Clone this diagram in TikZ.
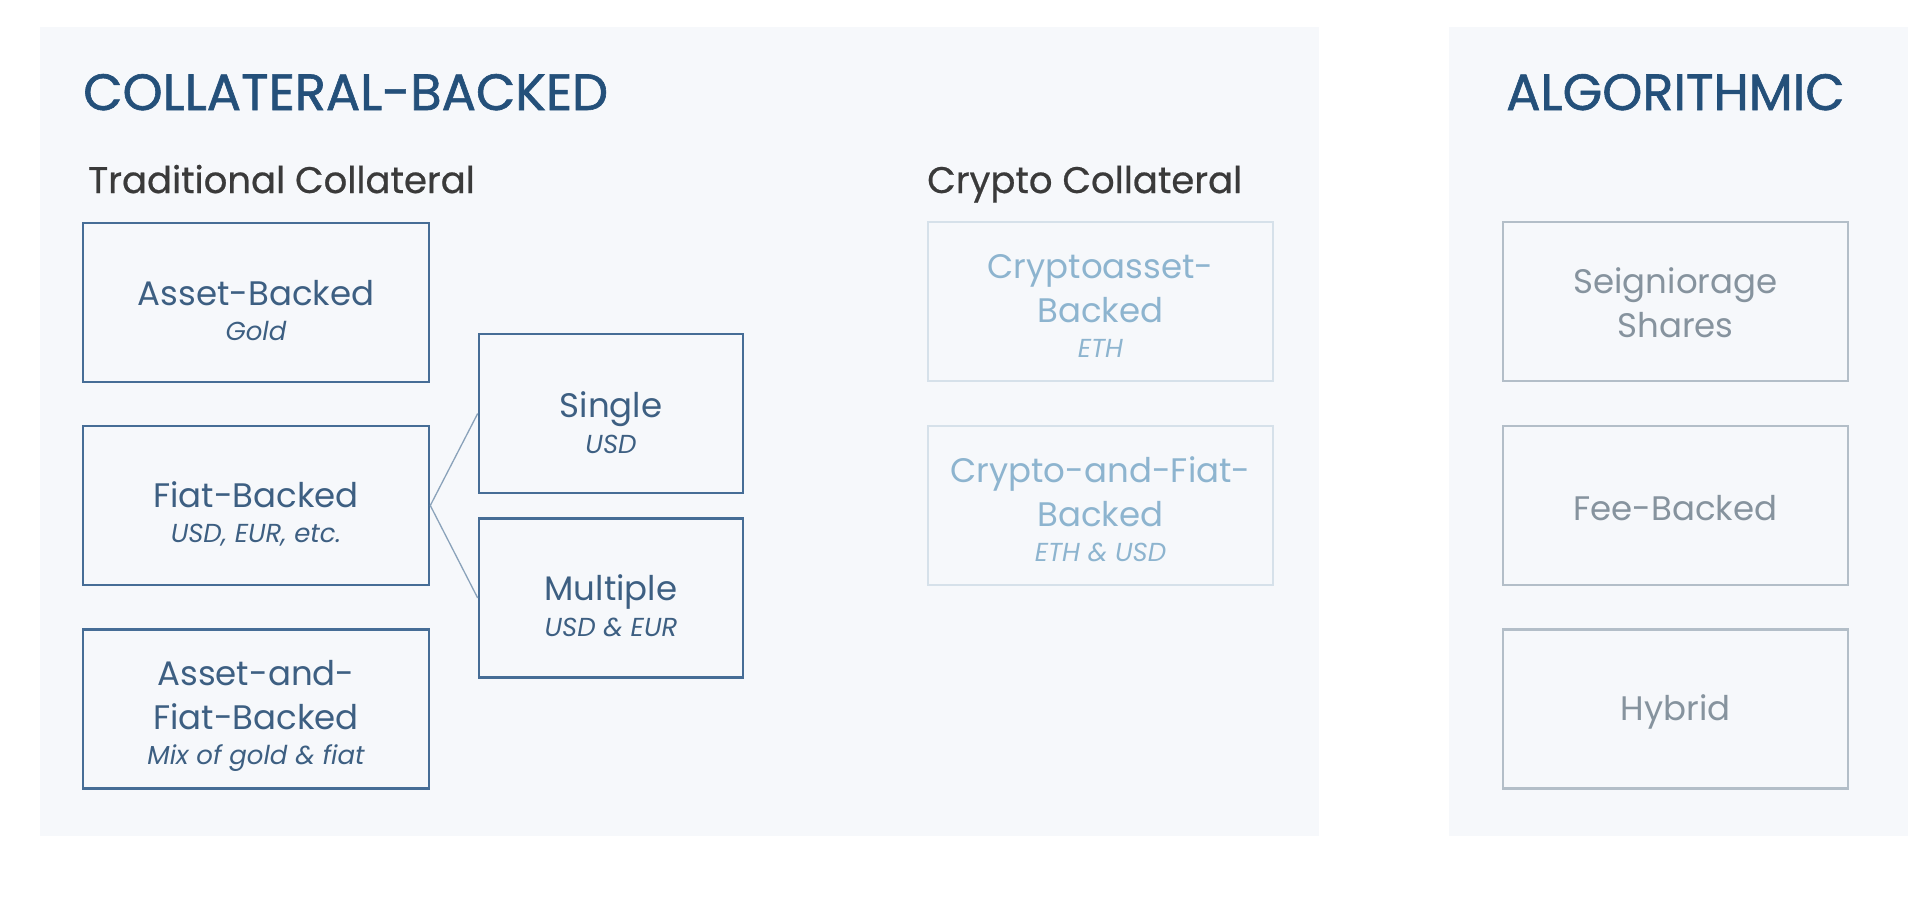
\documentclass[tikz,border=0pt]{standalone}
\usepackage{fontspec}
\setmainfont{Poppins}
\newfontfamily\headfont[FakeBold=1.2]{Poppins}
\newfontfamily\subheadfont[FakeBold=0.6]{Poppins}
\definecolor{panelbg}{HTML}{F6F8FB}
\definecolor{titleblue}{HTML}{24507A}
\definecolor{headgray}{HTML}{3A3A3A}
\definecolor{tradline}{HTML}{466D96}
\definecolor{tradtext}{HTML}{3D5F82}
\definecolor{cryline}{HTML}{D6E1EA}
\definecolor{crytext}{HTML}{8DB4CF}
\definecolor{algline}{HTML}{B3BEC8}
\definecolor{algtext}{HTML}{86939E}
\definecolor{linkline}{HTML}{8AA2BA}
\tikzset{
  boxbase/.style={rectangle, inner sep=0pt, minimum height=159pt},
  tradbox/.style={boxbase, draw=tradline, line width=2.6pt},
  crybox/.style={boxbase, draw=cryline, line width=2pt},
  algbox/.style={boxbase, draw=algline, line width=2.6pt},
  txtbase/.style={inner sep=0pt, align=center, font=\fontsize{34}{44}\selectfont},
  tradtxt/.style={txtbase, text=tradtext},
  crytxt/.style={txtbase, text=crytext},
  algtxt/.style={txtbase, text=algtext},
  bigtitle/.style={anchor=base west, inner sep=0pt, text=titleblue, font=\headfont\fontsize{51}{56}\selectfont},
  subhead/.style={anchor=base west, inner sep=0pt, text=headgray, font=\subheadfont\fontsize{37}{42}\selectfont},
  link/.style={draw=linkline, line width=1.3pt}
}
\newcommand{\subln}[1]{{\fontsize{26}{30}\selectfont\itshape #1}}
\begin{document}
\begin{tikzpicture}[x=1pt,y=-1pt]
\useasboundingbox (0,0) rectangle (1920,906);
\fill[white] (0,0) rectangle (1920,906);
\fill[panelbg] (40,27) rectangle (1319,836);
\fill[panelbg] (1449,27) rectangle (1908,836);

\node[bigtitle] (ttl1) at (83,110) {COLLATERAL-BACKED};
\node[bigtitle] (ttl2) at (1506,110) {ALGORITHMIC};
\node[subhead] (trad) at (88,193) {Traditional Collateral};
\node[subhead] (cryp) at (927,193) {Crypto Collateral};

% traditional collateral boxes
\node[tradbox, minimum width=346pt] (asset) at (256,302.5) {};
\node[tradbox, minimum width=346pt] (fiat) at (256,505.5) {};
\node[tradbox, minimum width=346pt] (af) at (256,709) {};
\node[tradbox, minimum width=264pt] (single) at (611,413.5) {};
\node[tradbox, minimum width=264pt] (multi) at (611,598) {};
\node[tradtxt] (assett) at ([yshift=-8pt]asset.center) {Asset-Backed\\[-9pt]\subln{Gold}};
\node[tradtxt] (fiatt) at ([yshift=-8pt]fiat.center) {Fiat-Backed\\[-9pt]\subln{USD, EUR, etc.}};
\node[tradtxt] (aft) at ([yshift=-7pt]af.center) {Asset-and-\\Fiat-Backed\\[-9pt]\subln{Mix of gold \& fiat}};
\node[tradtxt] (singlet) at ([yshift=-9pt]single.center) {Single\\[-8pt]\subln{USD}};
\node[tradtxt] (multit) at ([yshift=-8pt]multi.center) {Multiple\\[-8pt]\subln{USD \& EUR}};

% crypto collateral boxes
\node[crybox, minimum width=345pt] (cry1) at (1100.5,301.5) {};
\node[crybox, minimum width=345pt] (cry2) at (1100.5,505.5) {};
\node[crytxt] (cry1t) at ([yshift=-4pt]cry1.center) {Cryptoasset-\\Backed\\[-9pt]\subln{ETH}};
\node[crytxt] (cry2t) at ([yshift=-4pt]cry2.center) {Crypto-and-Fiat-\\Backed\\[-9pt]\subln{ETH \& USD}};

% algorithmic boxes
\node[algbox, minimum width=345pt] (seig) at (1675.5,301.5) {};
\node[algbox, minimum width=345pt] (fee) at (1675.5,505.5) {};
\node[algbox, minimum width=345pt] (hyb) at (1675.5,709) {};
\node[algtxt] (seigt) at ([yshift=-1pt]seig.center) {Seigniorage\\Shares};
\node[algtxt] (feet) at ([yshift=-3pt]fee.center) {Fee-Backed};
\node[algtxt] (hybt) at ([yshift=-3pt]hyb.center) {Hybrid};

\draw[link] (fiat.east) -- (single.west);
\draw[link] (fiat.east) -- (multi.west);
\end{tikzpicture}
\end{document}
